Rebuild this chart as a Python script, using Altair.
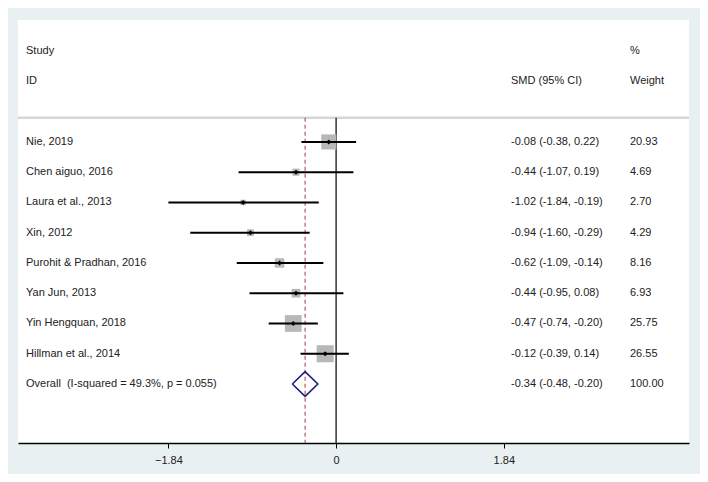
import altair as alt
import pandas as pd

studies = ["Nie, 2019", "Chen aiguo, 2016", "Laura et al., 2013", "Xin, 2012",
           "Purohit & Pradhan, 2016", "Yan Jun, 2013", "Yin Hengquan, 2018", "Hillman et al., 2014"]
smd = [-0.08, -0.44, -1.02, -0.94, -0.62, -0.44, -0.47, -0.12]
lower = [-0.38, -1.07, -1.84, -1.60, -1.09, -0.95, -0.74, -0.39]
upper = [0.22, 0.19, -0.19, -0.29, -0.14, 0.08, -0.20, 0.14]
weights = [20.93, 4.69, 2.70, 4.29, 8.16, 6.93, 25.75, 26.55]

overall_label = "Overall\u00a0 (I-squared = 49.3%, p = 0.055)"
overall_smd = -0.34
overall_lower = -0.48
overall_upper = -0.20
overall_weight = 100.00

tick_values = [-1.84, 0, 1.84]

FONT = "Liberation Sans"
BG = "#e8f0f2"

rows = list(range(1, len(studies) + 1))
df = pd.DataFrame({
    "study": studies, "smd": smd, "lo": lower, "hi": upper, "w": weights, "row": rows,
})
df["ci_text"] = [f"{s:.2f} ({l:.2f}, {h:.2f})" for s, l, h in zip(smd, lower, upper)]
df["w_text"] = [f"{w:.2f}" for w in weights]

orow = len(studies) + 1
odf = pd.DataFrame({
    "study": [overall_label], "smd": [overall_smd], "lo": [overall_lower], "hi": [overall_upper],
    "w": [overall_weight], "row": [orow],
    "ci_text": [f"{overall_smd:.2f} ({overall_lower:.2f}, {overall_upper:.2f})"],
    "w_text": [f"{overall_weight:.2f}"],
})
labels_df = pd.concat([df, odf], ignore_index=True)

xdom = [-3.49, 3.872]
ydom = [-3.03, 10.95]
xs = alt.Scale(domain=xdom, nice=False, zero=False)
ys = alt.Scale(domain=ydom, reverse=True, nice=False, zero=False)

X = lambda f: alt.X(f, type="quantitative", scale=xs,
                    axis=alt.Axis(values=tick_values, title=None, grid=False,
                                  domainColor="black", domainWidth=1.5, tickColor="black",
                                  tickSize=5, tickWidth=1, labelColor="#222", labelFont=FONT,
                                  labelFontSize=11, labelPadding=6,
                                  labelExpr="datum.value == 0 ? '0' : format(datum.value, '.2f')"))
Y = lambda f: alt.Y(f, type="quantitative", scale=ys, axis=None)

base = alt.Chart(df)

squares = base.mark_square(color="#b8b8b8", opacity=1).encode(
    x=X("smd"), y=Y("row"),
    size=alt.Size("w:Q", scale=alt.Scale(type="linear", domain=[0, 26.55], range=[0, 290]), legend=None),
)
ci = base.mark_rule(color="black", strokeWidth=2).encode(
    x=X("lo"), x2="hi", y=Y("row"))
dots = base.mark_point(shape="diamond", filled=True, color="black", size=24, opacity=1).encode(
    x=X("smd"), y=Y("row"))

# headers and separator
hdr = pd.DataFrame({
    "txt": ["Study", "ID", "SMD (95% CI)", "%", "Weight"],
    "row": [-2, -1, -1, -2, -1],
    "col": ["a", "a", "b", "c", "c"],
})
colpos = {"a": 8, "b": 493, "c": 612}
hdr["px"] = hdr["col"].map(colpos)
header = alt.Chart(hdr).mark_text(align="left", baseline="middle", font=FONT, fontSize=11,
                                  color="#222").encode(
    x=alt.X("px:Q", scale=None), y=Y("row"), text="txt:N")

sep = alt.Chart(pd.DataFrame({"row": [0.2]})).mark_rule(color="#d4d6d8", strokeWidth=2.5).encode(
    y=Y("row"), x=alt.value(0), x2=alt.value(671))

vline_df = pd.DataFrame({"x": [0], "y1": [0.2], "y2": [ydom[1]]})
zero_line = alt.Chart(vline_df).mark_rule(color="black", strokeWidth=1.2).encode(
    x=X("x"), y=Y("y1"), y2="y2")
ov_line = alt.Chart(pd.DataFrame({"x": [overall_smd], "y1": [0.2], "y2": [ydom[1]]})).mark_rule(
    color="#a8394a", strokeWidth=1, strokeDash=[4, 3]).encode(x=X("x"), y=Y("y1"), y2="y2")

# overall diamond
dh = 0.41
dia_df = pd.DataFrame({
    "x": [overall_lower, overall_smd, overall_upper, overall_smd, overall_lower],
    "y": [orow, orow - dh, orow, orow + dh, orow],
    "o": [0, 1, 2, 3, 4],
})
diamond = alt.Chart(dia_df).mark_line(color="#1c237c", strokeWidth=1.6).encode(
    x=X("x"), y=Y("y"), order="o:O")

txt_kw = dict(align="left", baseline="middle", font=FONT, fontSize=11, color="#222")
lab = alt.Chart(labels_df)
study_txt = lab.mark_text(**txt_kw).encode(x=alt.value(colpos["a"]), y=Y("row"), text="study:N")
ci_txt = lab.mark_text(**txt_kw).encode(x=alt.value(colpos["b"]), y=Y("row"), text="ci_text:N")
w_txt = lab.mark_text(**txt_kw).encode(x=alt.value(colpos["c"]), y=Y("row"), text="w_text:N")

chart = alt.layer(
    sep, ov_line, zero_line, squares, ci, dots, diamond, header, study_txt, ci_txt, w_txt
).properties(
    width=671, height=423,
    autosize=alt.AutoSizeParams(type="none"),
    padding={"left": 10, "top": 12, "right": 11, "bottom": 31},
    background=BG,
).configure_view(fill="white", stroke=None)

chart.save("out.html", embed_options={"renderer": "svg", "actions": False})
